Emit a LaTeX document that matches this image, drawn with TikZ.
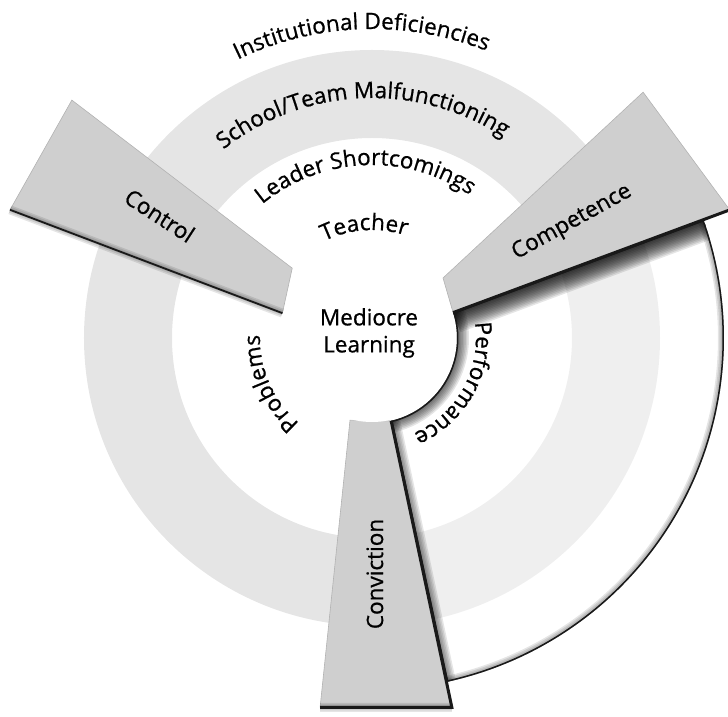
\documentclass[tikz,border=0pt]{standalone}
\usepackage{fontspec}
\setmainfont{Open Sans}[FakeBold=0.8]
\usetikzlibrary{decorations.text}

\newcommand\ringfont{\fontsize{22.5}{27}\selectfont}
\newcommand\perfsector{(pa) -- (pb) arc[start angle=19.6, end angle=-77.7, radius=352] -- (pd) arc[start angle=-77, end angle=17.4, radius=85] -- cycle}

\tikzset{
  blade/.style={fill=black!19, draw=black!30, line width=0.6pt},
  ring/.style={fill=black!10},
  rim/.style={line width=3pt, black!90},
  haze/.style={line width=#1, black, opacity=0.1},
  word/.style={font=\ringfont, inner sep=0pt},
  arctext/.style={decorate, decoration={text along path, text align=center, text={|\ringfont|#1}}}
}

\begin{document}
\begin{tikzpicture}[x=1pt, y=1pt, thick]
 \useasboundingbox (-372,-379) rectangle (356,338);
 \clip (-372,-379) rectangle (356,338);

 \fill[ring, even odd rule] (0,0) circle (288) circle (200);

 \coordinate (pa) at (17.4:85);
 \coordinate (pb) at (19.6:352);
 \coordinate (pc) at (-77.7:352);
 \coordinate (pd) at (-77:85);
 \fill[white, opacity=0.4] \perfsector;
 \begin{scope}
  \clip \perfsector;
  \foreach \w in {3,6,...,42}
   \draw[haze=\w pt] (pa) -- (pb);
  \foreach \w in {3,6,...,24}
   \draw[haze=\w pt] (pd) arc[start angle=-77, end angle=17.4, radius=85];
  \foreach \w in {3,6,...,18}
   \draw[haze=\w pt] (pc) -- (pd);
  \foreach \w in {3,6,...,12}
   \draw[haze=\w pt] (pb) arc[start angle=19.6, end angle=-77.7, radius=352];
  \draw[rim] \perfsector;
 \end{scope}

 \fill[blade] (138.8:106) -- (141.6:383) -- (160.5:384) -- (164.5:93) -- cycle;
 \fill[blade] (pa) -- (19.7:380) -- (42.2:366) -- (40.2:93) -- cycle;
 \fill[blade] (255:85) -- (262:373) -- (-77.8:378) -- (pd) -- cycle;

 \foreach \w in {3,6,9}
  \draw[haze=\w pt] (164.5:93) -- (160.5:384);
 \draw[rim, line width=1.8pt] (164.5:93) -- (160.5:384);
 \draw[rim] (pa) -- (19.7:380);
 \foreach \w in {3,6,9}
  \draw[haze=\w pt] (262:373) -- (-77.8:378);
 \draw[rim] (pd) -- (-77.8:378) -- (262:373);

 \fill[white] (0,0) circle (84);

 \path[arctext=Institutional Deficiencies] (132:309) arc[start angle=132, end angle=52, radius=309];
 \path[arctext=School/Team Malfunctioning] (137.5:240) arc[start angle=137.5, end angle=47.5, radius=240];
 \path[arctext=Leader Shortcomings] (137.5:173) arc[start angle=137.5, end angle=47.5, radius=173];
 \path[arctext=Teacher] (129:108) arc[start angle=129, end angle=59, radius=108];
 \path[arctext=Performance] (21:104) arc[start angle=21, end angle=-79, radius=104];
 \path[arctext=Problems] (249:112) arc[start angle=249, end angle=159, radius=112];

 \node[word, rotate=-33] (control) at (150:245) {Control};
 \node[word, rotate=29] (competence) at (30:231) {Competence};
 \node[word, rotate=90] (conviction) at (-89.3:236) {Conviction};
 \node[word, align=center] (learning) at (-3,5) {Mediocre\\Learning};
\end{tikzpicture}
\end{document}
